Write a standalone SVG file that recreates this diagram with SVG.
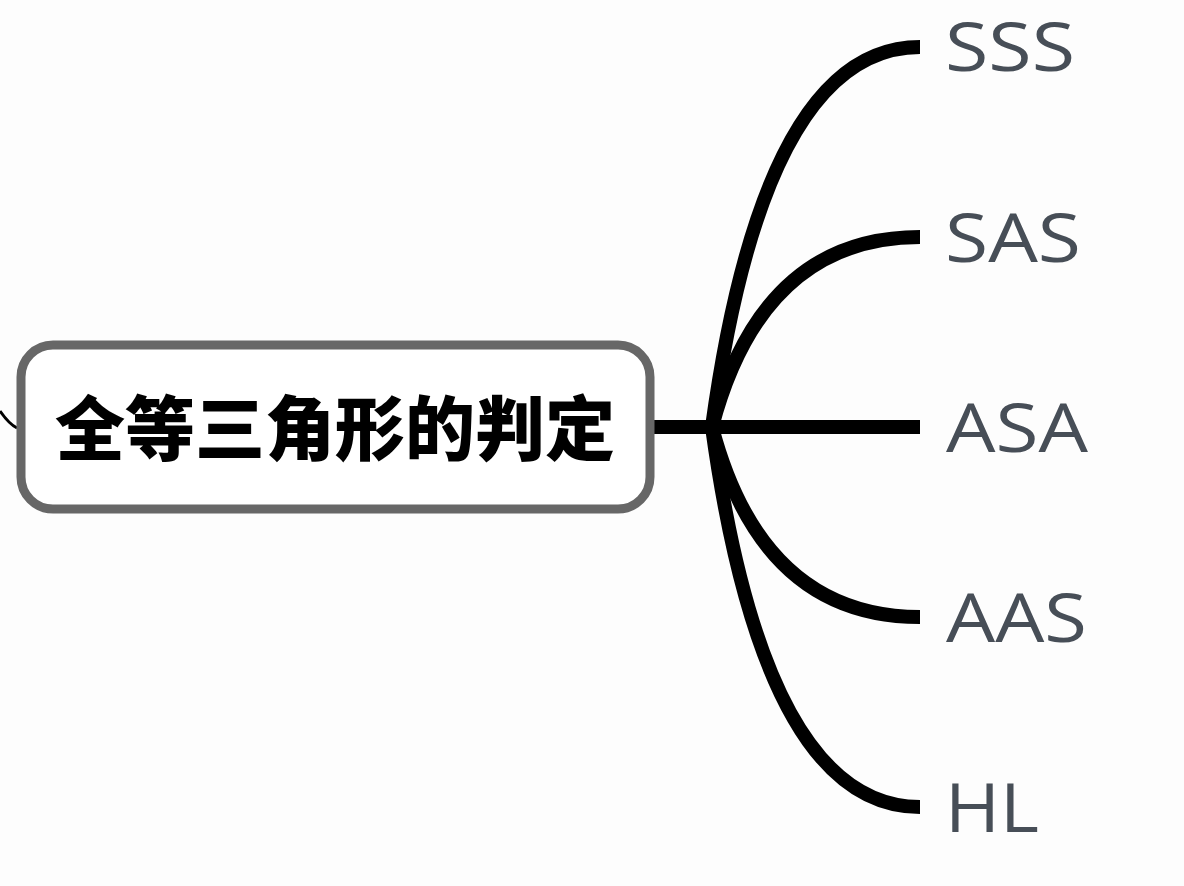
<svg xmlns="http://www.w3.org/2000/svg" width="1184" height="886" viewBox="0 0 1184 886">
<style>
.conn{fill:none;stroke:#000;stroke-width:14;stroke-linecap:butt}
.lbl{font-family:"Open Sans","Liberation Sans",sans-serif;font-size:67px;fill:#474e57}
.title{font-family:"Noto Sans CJK SC","Noto Sans",sans-serif;font-weight:900;font-size:70px;fill:#000}
</style>
<rect x="0" y="0" width="1184" height="886" fill="#fdfdfd"/>
<g id="connectors">
<path d="M0,411 Q9,424 17,428" fill="none" stroke="#000" stroke-width="3"/>
<path class="conn" d="M653,427 H920"/>
<path class="conn" d="M712,427 Q764,47 920,47"/>
<path class="conn" d="M712,427 Q762,237 920,237"/>
<path class="conn" d="M712,427 Q762,617 920,617"/>
<path class="conn" d="M712,427 Q764,807 920,807"/>
</g>
<g id="root">
<rect x="21" y="345" width="629" height="164" rx="32" fill="#fff" stroke="#676767" stroke-width="9"/>
<text class="title" x="335" y="455" text-anchor="middle">全等三角形的判定</text>
</g>
<g id="n-sss"><text class="lbl" x="945" y="71" textLength="130" lengthAdjust="spacingAndGlyphs">SSS</text></g>
<g id="n-sas"><text class="lbl" x="945" y="262" textLength="136" lengthAdjust="spacingAndGlyphs">SAS</text></g>
<g id="n-asa"><text class="lbl" x="946" y="452" textLength="142" lengthAdjust="spacingAndGlyphs">ASA</text></g>
<g id="n-aas"><text class="lbl" x="946" y="642" textLength="141" lengthAdjust="spacingAndGlyphs">AAS</text></g>
<g id="n-hl"><text class="lbl" x="945" y="832" textLength="94" lengthAdjust="spacingAndGlyphs">HL</text></g>
</svg>
